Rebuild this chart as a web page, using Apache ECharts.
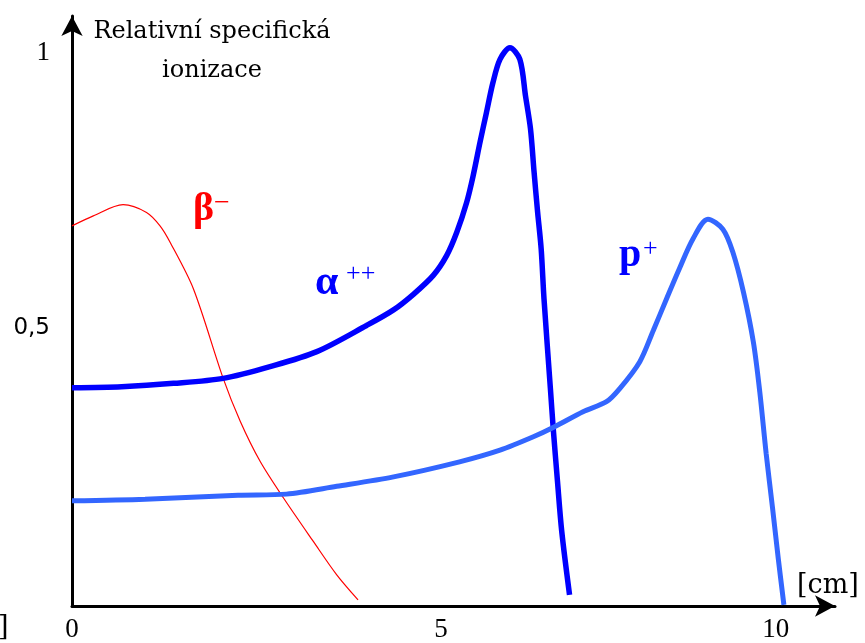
<!DOCTYPE html>
<html>
<head>
<meta charset="utf-8">
<script src="https://cdn.jsdelivr.net/npm/echarts@6/dist/echarts.min.js"></script>
<style>
  html, body { margin: 0; padding: 0; background: #fff; }
  #chart { width: 865px; height: 643px; }
</style>
</head>
<body>
<div id="chart"></div>
<script>
// [x in cm, relative specific ionization]
var betaData = [
  [0, 0.683], [0.30, 0.701], [0.72, 0.721], [1.05, 0.707], [1.24, 0.683],
  [1.38, 0.654], [1.71, 0.570], [2.13, 0.409], [2.37, 0.332],
  [2.65, 0.260], [2.98, 0.194], [3.40, 0.116], [3.73, 0.056], [4.03, 0.011]
];
var alphaData = [
  [0, 0.392], [0.70, 0.394], [1.43, 0.400], [2.13, 0.409], [2.79, 0.430],
  [3.45, 0.457], [4.15, 0.504], [4.53, 0.532], [4.81, 0.560], [5.09, 0.594],
  [5.28, 0.630], [5.42, 0.671], [5.56, 0.725], [5.65, 0.772], [5.75, 0.834],
  [5.84, 0.887], [5.93, 0.940], [6.03, 0.982], [6.17, 1.003], [6.31, 0.982],
  [6.39, 0.916], [6.46, 0.857], [6.51, 0.780], [6.56, 0.708], [6.61, 0.642],
  [6.65, 0.552], [6.74, 0.391], [6.78, 0.319], [6.84, 0.224], [6.90, 0.134],
  [7.01, 0.020]
];
var protonData = [
  [0, 0.189], [1.03, 0.192], [2.34, 0.199], [3.02, 0.201], [3.73, 0.215],
  [4.53, 0.232], [5.46, 0.259], [6.03, 0.280], [6.50, 0.304], [6.80, 0.322],
  [7.20, 0.349], [7.53, 0.367], [7.72, 0.391], [8.00, 0.439], [8.19, 0.495],
  [8.38, 0.553], [8.56, 0.607], [8.75, 0.660], [8.96, 0.695], [9.17, 0.677],
  [9.31, 0.636], [9.46, 0.564], [9.60, 0.474], [9.69, 0.385], [9.78, 0.274],
  [9.87, 0.176], [9.95, 0.086], [10.03, 0.002]
];
var xTicks = [0, 5, 10];
var yTicks = {0.5: '0,5', 1: '1'};

var chart = echarts.init(document.getElementById('chart'));

var serif = 'DejaVu Serif';
var times = 'Liberation Serif';

option = {
    backgroundColor: '#fff',
    animation: false,
    grid: {
        left: 72,
        top: 16,
        width: 763,
        height: 592
    },
    xAxis: {
        type: 'value',
        min: 0,
        max: 10.75,
        interval: 5,
        splitLine: { show: false },
        axisTick: { show: false },
        axisLine: {
            lineStyle: { color: '#000', width: 3 },
            symbol: ['none', 'arrow'],
            symbolSize: [16, 20]
        },
        axisLabel: {
            margin: 10,
            fontFamily: times,
            fontSize: 27,
            color: '#000',
            formatter: function (v) {
                if (xTicks.indexOf(v) < 0) return '';
                if (v === 5) return '{r|5}';
                if (v === 10) return '{l|10}';
                return '' + v;
            },
            rich: {
                r: { fontFamily: times, fontSize: 27, color: '#000', padding: [0, 0, 0, 28] },
                l: { fontFamily: times, fontSize: 27, color: '#000', padding: [0, 12, 0, 0] }
            }
        }
    },
    yAxis: {
        type: 'value',
        min: 0,
        max: 1.06,
        interval: 0.5,
        splitLine: { show: false },
        axisTick: { show: false },
        axisLine: {
            lineStyle: { color: '#000', width: 3 },
            symbol: ['none', 'arrow'],
            symbolSize: [16, 20]
        },
        axisLabel: {
            margin: 22,
            color: '#000',
            formatter: function (v) {
                if (v === 0.5) return '{s|' + yTicks[v] + '}';
                if (v === 1) return '{f|' + yTicks[v] + '}';
                return '';
            },
            rich: {
                s: { fontFamily: 'DejaVu Sans', fontSize: 23, color: '#000' },
                f: { fontFamily: times, fontSize: 27, color: '#000', padding: [8, 0, 0, 0] }
            }
        }
    },
    series: [
        {
            name: 'beta',
            type: 'line',
            data: betaData,
            smooth: 0.3,
            showSymbol: false,
            lineStyle: { color: '#ff0000', width: 1.2 }
        },
        {
            name: 'alpha',
            type: 'line',
            data: alphaData,
            smooth: 0.3,
            showSymbol: false,
            lineStyle: { color: '#0000ff', width: 5.5 }
        },
        {
            name: 'proton',
            type: 'line',
            data: protonData,
            smooth: 0.3,
            showSymbol: false,
            lineStyle: { color: '#3366ff', width: 5 }
        }
    ],
    graphic: [
        { type: 'text', x: 212, y: 32, style: { text: 'Relativní specifická', fontFamily: serif, fontSize: 24, fill: '#000', align: 'center', verticalAlign: 'middle' } },
        { type: 'text', x: 212, y: 71, style: { text: 'ionizace', fontFamily: serif, fontSize: 24, fill: '#000', align: 'center', verticalAlign: 'middle' } },
        { type: 'text', x: 797, y: 586, style: { text: '[cm]', fontFamily: serif, fontSize: 27, fill: '#000', align: 'left', verticalAlign: 'middle' } },
        { type: 'text', x: -2, y: 628, style: { text: ']', fontFamily: serif, fontSize: 27, fill: '#000', align: 'left', verticalAlign: 'middle' } },
        { type: 'text', x: 193, y: 210, style: { text: 'β', fontFamily: times, fontWeight: 'bold', fontSize: 40, fill: '#ff0000', align: 'left', verticalAlign: 'middle' } },
        { type: 'text', x: 214, y: 204, style: { text: '−', fontFamily: times, fontSize: 28, fill: '#ff0000', align: 'left', verticalAlign: 'middle' } },
        { type: 'text', x: 315, y: 283, style: { text: 'α', fontFamily: times, fontWeight: 'bold', fontSize: 42, fill: '#0000ff', align: 'left', verticalAlign: 'middle' } },
        { type: 'text', x: 346, y: 274, style: { text: '++', fontFamily: times, fontSize: 26, fill: '#0000ff', align: 'left', verticalAlign: 'middle' } },
        { type: 'text', x: 619, y: 256, style: { text: 'p', fontFamily: times, fontWeight: 'bold', fontSize: 40, fill: '#0000ff', align: 'left', verticalAlign: 'middle' } },
        { type: 'text', x: 643, y: 249, style: { text: '+', fontFamily: times, fontSize: 26, fill: '#0000ff', align: 'left', verticalAlign: 'middle' } }
    ]
};

chart.setOption(option);
</script>
</body>
</html>
